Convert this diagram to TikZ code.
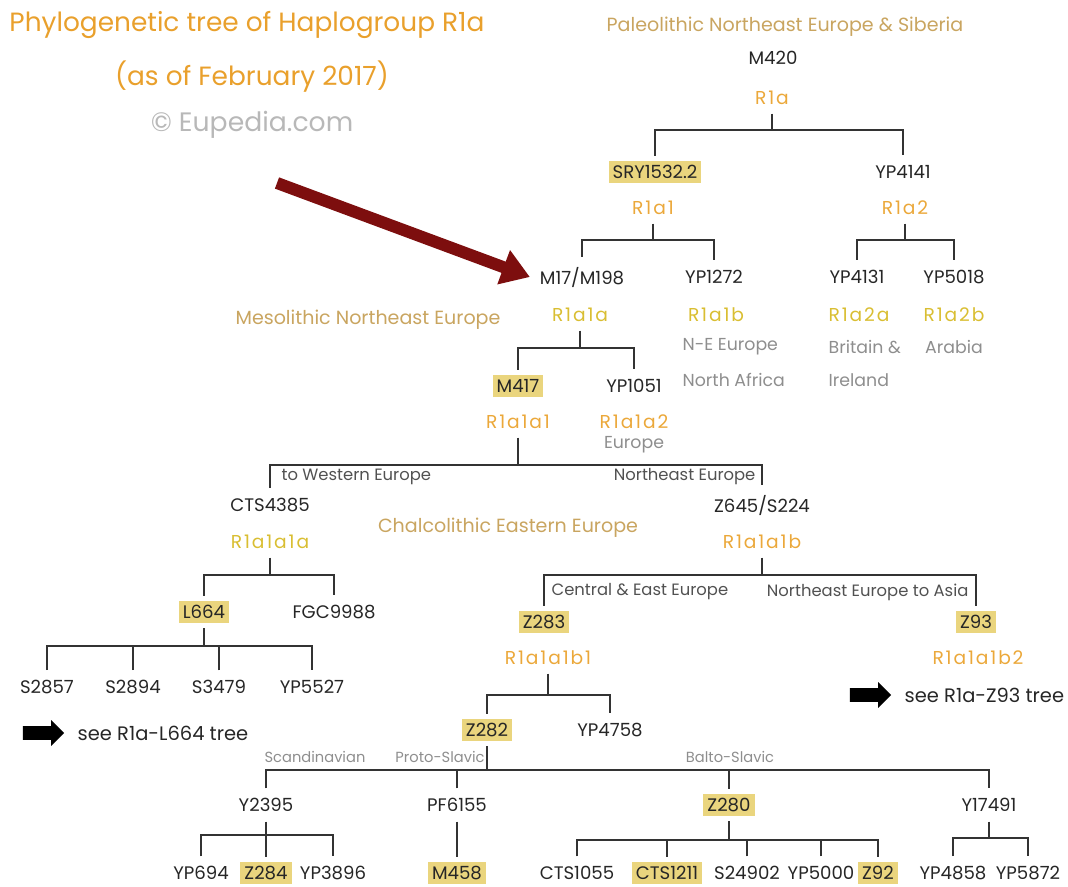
\documentclass[tikz,border=0pt]{standalone}
\usepackage{fontspec}
\setmainfont{Poppins}
\newfontfamily\hgfont[LetterSpace=10]{Poppins}
\usetikzlibrary{arrows.meta,shapes.arrows}

\definecolor{titleor}{HTML}{E9A02C}
\definecolor{hgor}{HTML}{EBA83A}
\definecolor{hgye}{HTML}{D9BE32}
\definecolor{erabr}{HTML}{C9A560}
\definecolor{notegr}{HTML}{8E8E8E}
\definecolor{credgr}{HTML}{B8B8B8}
\definecolor{hlye}{HTML}{EAD57E}
\definecolor{inkc}{HTML}{262626}
\definecolor{treec}{HTML}{333333}
\definecolor{redarr}{HTML}{7D0E0E}

\tikzset{
  ttl/.style={text=titleor, font=\fontsize{19.8}{23}\selectfont},
  mk/.style={text=inkc, font=\fontsize{13.6}{16}\selectfont, inner sep=2.5pt, outer sep=5pt},
  hl/.style={mk, fill=hlye, inner sep=3pt, outer sep=4pt},
  hg/.style={text=hgor, font=\hgfont\fontsize{14}{16}\selectfont, inner sep=2.5pt, outer sep=4pt},
  hy/.style={hg, text=hgye},
  era/.style={text=erabr, font=\fontsize{14.3}{17}\selectfont},
  note/.style={text=notegr, font=\fontsize{13}{15}\selectfont},
  brlbl/.style={text=inkc!80, font=\fontsize{12.3}{14}\selectfont, inner sep=1pt},
  brsmall/.style={text=notegr, font=\fontsize{11}{13}\selectfont, inner sep=1pt},
  seetxt/.style={text=inkc, font=\fontsize{14.6}{17}\selectfont},
  treeline/.style={draw=treec, line width=1.5pt},
  blockarr/.style={single arrow, fill=black, inner sep=5pt, minimum height=31pt,
    single arrow head extend=4.5pt, single arrow head indent=0pt},
}

\begin{document}
\begin{tikzpicture}[x = 0.75pt, y = -0.75pt]
\useasboundingbox (0,0) rectangle (1068,886);

\node[ttl] (ttlmain) at (247,25) {Phylogenetic tree of Haplogroup R1a};
\node[ttl] (ttldate) at (252,77) {(as of February 2017)};
\node[text=credgr, font=\fontsize{20}{23}\selectfont] (credit) at (252,125) {© Eupedia.com};

\node[era] (paleo) at (785,27) {Paleolithic Northeast Europe \& Siberia};
\node[era] (meso) at (368,320) {Mesolithic Northeast Europe};
\node[era] (chalco) at (508,528) {Chalcolithic Eastern Europe};

% upper tree
\node[mk] (m420) at (773,58) {M420};
\node[hg] (r1a) at (772,98) {R1a};
\node[hl] (sry) at (655,172) {SRY1532.2};
\node[mk] (yp4141) at (903,172) {YP4141};
\node[hg] (r1a1) at (653,208) {R1a1};
\node[hg] (r1a2) at (905,208) {R1a2};
\node[mk] (m17) at (582,277) {M17/M198};
\node[mk] (yp1272) at (714,277) {YP1272};
\node[mk] (yp4131) at (857,277) {YP4131};
\node[mk] (yp5018) at (954,277) {YP5018};
\node[hy] (r1a1a) at (580,315) {R1a1a};
\node[hy] (r1a1b) at (716,315) {R1a1b};
\node[hy] (r1a2a) at (859,315) {R1a2a};
\node[hy] (r1a2b) at (954,315) {R1a2b};
\node[note, anchor=west] (nee) at (678,347) {N-E Europe};
\node[note, anchor=west] (nafr) at (678,380) {North Africa};
\node[note, anchor=west] (brit) at (824,347) {Britain \&};
\node[note, anchor=west] (irl) at (824,380) {Ireland};
\node[note] (arab) at (954,347) {Arabia};

\draw[treeline] (r1a.south) -- (r1a |- 0,130) -| (sry.north);
\draw[treeline] (r1a |- 0,130) -| (yp4141.north);
\draw[treeline] (r1a1.south) -- (r1a1 |- 0,240) -| (m17.north);
\draw[treeline] (r1a1 |- 0,240) -| (yp1272.north);
\draw[treeline] (r1a2.south) -- (r1a2 |- 0,240) -| (yp4131.north);
\draw[treeline] (r1a2 |- 0,240) -| (yp5018.north);

\coordinate (redtail) at (277,183);
\draw[redarr, line width=9pt, -{Triangle[length=21pt, width=26pt]}] (redtail) -- (m17.west);

% M17 branch
\node[hl] (m417) at (518,386) {M417};
\node[mk] (yp1051) at (634,386) {YP1051};
\node[hg] (r1a1a1) at (518,422) {R1a1a1};
\node[hg] (r1a1a2) at (634,422) {R1a1a2};
\node[note] (eur) at (634,445) {Europe};
\draw[treeline] (r1a1a.south) -- (r1a1a |- 0,348) -| (m417.north);
\draw[treeline] (r1a1a |- 0,348) -| (yp1051.north);

\node[brlbl, anchor=west] (towest) at (280,477) {to Western Europe};
\node[brlbl, anchor=east] (toneast) at (757,477) {Northeast Europe};
\node[mk] (cts4385) at (270,505) {CTS4385};
\node[mk] (z645) at (762,505) {Z645/S224};
\node[hy] (r1a1a1a) at (270,542) {R1a1a1a};
\node[hg] (r1a1a1b) at (762,542) {R1a1a1b};
\draw[treeline] (r1a1a1.south) -- (r1a1a1 |- 0,465) -| (cts4385.north);
\draw[treeline] (r1a1a1 |- 0,465) -| (z645.north);

% L664 branch
\node[hl] (l664) at (204,612) {L664};
\node[mk] (fgc9988) at (334,612) {FGC9988};
\node[mk] (s2857) at (47,687) {S2857};
\node[mk] (s2894) at (133,687) {S2894};
\node[mk] (s3479) at (219,687) {S3479};
\node[mk] (yp5527) at (312,687) {YP5527};
\draw[treeline] (r1a1a1a.south) -- (r1a1a1a |- 0,575) -| (l664.north);
\draw[treeline] (r1a1a1a |- 0,575) -| (fgc9988.north);
\draw[treeline] (l664.south) -- (l664 |- 0,646);
\draw[treeline] (s2857.north) |- (l664 |- 0,646) -| (yp5527.north);
\draw[treeline] (s2894.north) -- (s2894 |- 0,646);
\draw[treeline] (s3479.north) -- (s3479 |- 0,646);
\node[blockarr] (arrl664) at (40,733) {};
\node[seetxt, anchor=west] (seel664) at (73,733) {see R1a-L664 tree};

% Z645 branch
\node[brlbl, anchor=west] (cee) at (550,592) {Central \& East Europe};
\node[brlbl, anchor=east] (neasia) at (970,592) {Northeast Europe to Asia};
\node[hl] (z283) at (544,622) {Z283};
\node[hl] (z93) at (976,622) {Z93};
\node[hg] (r1a1a1b1) at (548,658) {R1a1a1b1};
\node[hg] (r1a1a1b2) at (978,658) {R1a1a1b2};
\draw[treeline] (r1a1a1b.south) -- (r1a1a1b |- 0,575) -| (z283.north);
\draw[treeline] (r1a1a1b |- 0,575) -| (z93.north);
\node[blockarr] (arrz93) at (867,695) {};
\node[seetxt, anchor=west] (seez93) at (900,695) {see R1a-Z93 tree};

\node[hl] (z282) at (487,730) {Z282};
\node[mk] (yp4758) at (610,730) {YP4758};
\draw[treeline] (r1a1a1b1.south) -- (r1a1a1b1 |- 0,695) -| (z282.north);
\draw[treeline] (r1a1a1b1 |- 0,695) -| (yp4758.north);

\node[brsmall] (scand) at (315,757) {Scandinavian};
\node[brsmall] (protosl) at (440,757) {Proto-Slavic};
\node[brsmall] (baltosl) at (730,757) {Balto-Slavic};

\node[mk] (y2395) at (266,805) {Y2395};
\node[mk] (pf6155) at (457,805) {PF6155};
\node[hl] (z280) at (729,805) {Z280};
\node[mk] (y17491) at (989,805) {Y17491};
\draw[treeline] (z282.south) -- (z282 |- 0,770);
\draw[treeline] (y2395.north) |- (z282 |- 0,770) -| (y17491.north);
\draw[treeline] (pf6155.north) -- (pf6155 |- 0,770);
\draw[treeline] (z280.north) -- (z280 |- 0,770);

% leaves
\node[mk] (yp694) at (201,873) {YP694};
\node[hl] (z284) at (266,873) {Z284};
\node[mk] (yp3896) at (333,873) {YP3896};
\node[hl] (m458) at (457,873) {M458};
\node[mk] (cts1055) at (577,873) {CTS1055};
\node[hl] (cts1211) at (667,873) {CTS1211};
\node[mk] (s24902) at (747,873) {S24902};
\node[mk] (yp5000) at (821,873) {YP5000};
\node[hl] (z92) at (878,873) {Z92};
\node[mk] (yp4858) at (953,873) {YP4858};
\node[mk] (yp5872) at (1028,873) {YP5872};

\draw[treeline] (y2395.south) -- (y2395 |- 0,835);
\draw[treeline] (yp694.north) |- (y2395 |- 0,835) -| (yp3896.north);
\draw[treeline] (z284.north) -- (z284 |- 0,835);
\draw[treeline] (pf6155.south) -- (m458.north);
\draw[treeline] (z280.south) -- (z280 |- 0,840);
\draw[treeline] (cts1055.north) |- (z280 |- 0,840) -| (z92.north);
\draw[treeline] (cts1211.north) -- (cts1211 |- 0,840);
\draw[treeline] (s24902.north) -- (s24902 |- 0,840);
\draw[treeline] (yp5000.north) -- (yp5000 |- 0,840);
\draw[treeline] (y17491.south) -- (y17491 |- 0,838);
\draw[treeline] (yp4858.north) |- (y17491 |- 0,838) -| (yp5872.north);
\end{tikzpicture}
\end{document}
